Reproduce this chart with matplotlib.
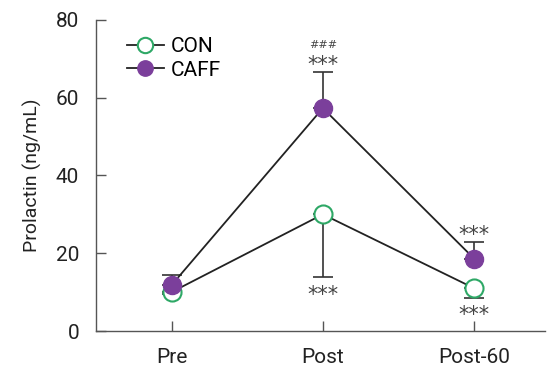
# Prolactin response, CON vs CAFF, three time points
import matplotlib
matplotlib.use('Agg')
from matplotlib import pyplot as plt

plt.rcParams['font.family'] = ['Roboto', 'DejaVu Sans']

timepoints = ['Pre', 'Post', 'Post-60']
con_mean = [10.0, 30.0, 11.0]
con_err = [0.5, 16.0, 2.5]      # lower error only
caff_mean = [11.8, 57.3, 18.6]
caff_err = [2.5, 9.3, 4.3]      # upper error only

# significance marks: (x index, y value, text)
stars = [(1, 68.3, '***'), (1, 9.2, '***'), (2, 24.8, '***'), (2, 4.2, '***')]
hashes = [(1, 73.5, '###')]

gray = '#555555'
purple = '#7B3F9B'
green = '#2EA866'

fig = plt.figure(figsize=(5.48, 3.67), dpi=100)
ax = fig.add_axes([0.175, 0.098, 0.82, 0.848])

x = list(range(len(timepoints)))

ax.errorbar(x, con_mean, yerr=[con_err, [0]*3], fmt='none', ecolor='#333333',
            elinewidth=1.2, capsize=7, capthick=1.2, zorder=2)
ax.errorbar(x, caff_mean, yerr=[[0]*3, caff_err], fmt='none', ecolor='#333333',
            elinewidth=1.2, capsize=7, capthick=1.2, zorder=2)

ax.plot(x, con_mean, color='#222222', lw=1.3, marker='o', ms=13,
        mfc='white', mec=green, mew=1.5, label='CON', zorder=3)
ax.plot(x, caff_mean, color='#222222', lw=1.3, marker='o', ms=13,
        mfc=purple, mec=purple, mew=1.0, label='CAFF', zorder=4)

for i, y, s in stars:
    ax.text(i, y, s, ha='center', va='center', fontsize=15, color='#444444',
            family='DejaVu Sans')
for i, y, s in hashes:
    ax.text(i, y, s, ha='center', va='center', fontsize=8, color='#444444',
            style='italic', family='DejaVu Sans')

ax.set_xlim(-0.5, 2.47)
ax.set_ylim(0, 80)
ax.set_yticks([0, 20, 40, 60, 80])
ax.set_xticks(x)
ax.set_xticklabels(timepoints)
ax.set_ylabel('Prolactin (ng/mL)', fontsize=14, color='#222222', labelpad=10)

for side in ['top', 'right']:
    ax.spines[side].set_visible(False)
for side in ['left', 'bottom']:
    ax.spines[side].set_color(gray)
    ax.spines[side].set_linewidth(1.0)
ax.tick_params(direction='in', length=7, width=1.0, color=gray,
               labelsize=15, labelcolor='#222222')
ax.tick_params(axis='x', pad=12)
ax.tick_params(axis='y', pad=12)

ax.legend(loc='upper left', bbox_to_anchor=(0.05, 0.97), frameon=False,
          fontsize=15, handlelength=1.8, labelspacing=0.2, handletextpad=0.3,
          borderaxespad=0, markerscale=0.85)

plt.savefig('out.png', dpi=100)
